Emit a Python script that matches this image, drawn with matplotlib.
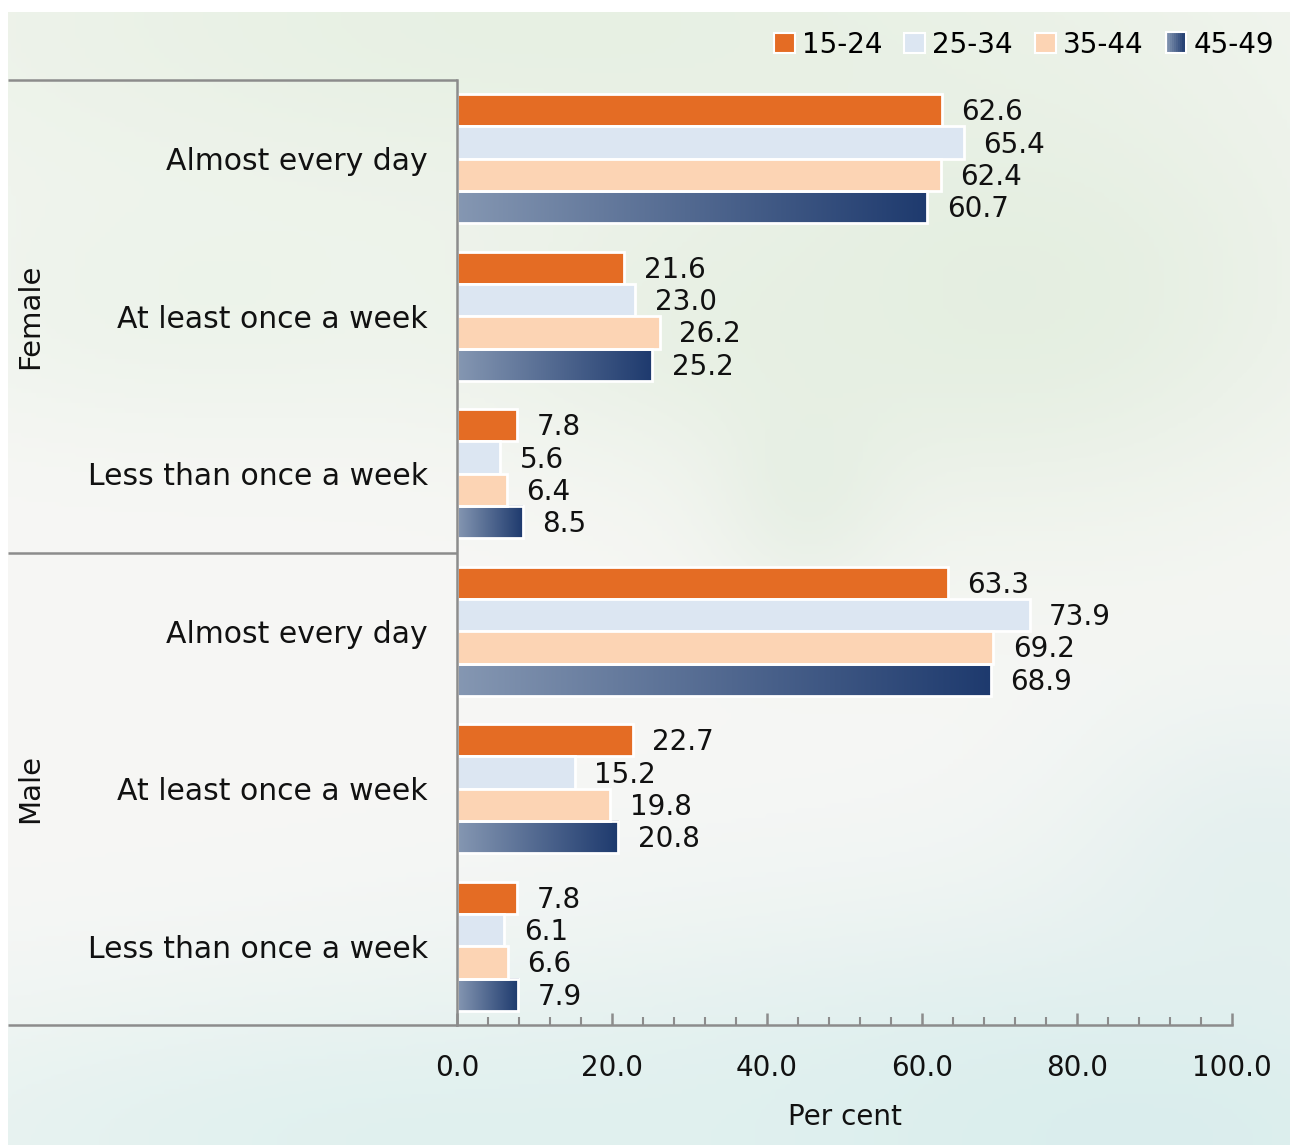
import numpy as np
import matplotlib.pyplot as plt
from matplotlib.colors import LinearSegmentedColormap
from matplotlib.patches import Rectangle
from matplotlib.legend_handler import HandlerBase

plt.rcParams['font.family'] = ['DejaVu Sans']

groups = ["Female", "Male"]
frequencies = ["Almost every day", "At least once a week", "Less than once a week"]
ages = ["15-24", "25-34", "35-44", "45-49"]

# per cent, rows = Female x3 then Male x3
age_15_24 = [62.6, 21.6, 7.8, 63.3, 22.7, 7.8]
age_25_34 = [65.4, 23.0, 5.6, 73.9, 15.2, 6.1]
age_35_44 = [62.4, 26.2, 6.4, 69.2, 19.8, 6.6]
age_45_49 = [60.7, 25.2, 8.5, 68.9, 20.8, 7.9]
series = [age_15_24, age_25_34, age_35_44, age_45_49]

colors = ["#E46C24", "#DCE6F2", "#FCD4B4", None]
navy = LinearSegmentedColormap.from_list("navy", ["#8597B2", "#1E3A6E"])
line_grey = "#8C8C8C"

fig = plt.figure(figsize=(12.9, 11.45), dpi=100)

# watercolour-style wash behind everything
bg = fig.add_axes([8 / 1290, 0, 1 - 8 / 1290, 1 - 12 / 1145], zorder=-10)
H, W = 230, 260
yy, xx = np.mgrid[0:H, 0:W]
yy = yy / H
xx = xx / W
base = np.array([247, 247, 245], float)
img = np.ones((H, W, 3)) * base


def wash(img, cx, cy, sx, sy, rgb, strength):
    w = strength * np.exp(-(((xx - cx) / sx) ** 2 + ((yy - cy) / sy) ** 2))
    return img * (1 - w[..., None]) + np.array(rgb, float) * w[..., None]


img = wash(img, 0.4, 0.0, 0.6, 0.2, (230, 240, 226), 0.9)
img = wash(img, 0.15, 0.25, 0.25, 0.12, (234, 242, 232), 0.7)
img = wash(img, 0.78, 0.25, 0.28, 0.2, (225, 237, 221), 0.8)
img = wash(img, 0.62, 0.42, 0.07, 0.1, (220, 234, 218), 0.45)
img = wash(img, 0.55, 0.28, 0.18, 0.1, (229, 239, 225), 0.6)
img = wash(img, 0.85, 1.0, 0.45, 0.2, (214, 236, 236), 0.9)
img = wash(img, 0.3, 1.0, 0.5, 0.14, (222, 240, 238), 0.85)
img = wash(img, 0.98, 0.75, 0.15, 0.15, (220, 237, 236), 0.6)
bg.imshow(img.astype(np.uint8), aspect="auto", interpolation="bicubic",
          extent=[0, 1, 0, 1])
bg.set_axis_off()

ax = fig.add_axes([457 / 1290, 120 / 1145, 775 / 1290, 945 / 1145])
ax.patch.set_alpha(0)

n_cat = len(age_15_24)
pos = np.arange(n_cat) + 0.5
h = 0.205
offsets = (np.arange(4) - 1.5) * h

for i, vals in enumerate(series):
    y = pos + offsets[i]
    if colors[i] is not None:
        ax.barh(y, vals, height=h, color=colors[i], edgecolor="white",
                linewidth=2, zorder=3)
    else:
        grad = np.linspace(0, 1, 256).reshape(1, -1)
        for yi, v in zip(y, vals):
            ax.imshow(grad, cmap=navy, aspect="auto", zorder=2,
                      extent=[0, v, yi + h / 2, yi - h / 2])
        ax.barh(y, vals, height=h, color="none", edgecolor="white",
                linewidth=2, zorder=3)
    for yi, v in zip(y, vals):
        ax.annotate(f"{v:.1f}", (v, yi), xytext=(14, -1.5),
                    textcoords="offset points", ha="left", va="center",
                    fontsize=20, color="#111111")

ax.set_xlim(0, 100)
ax.set_ylim(n_cat, 0)

ax.set_yticks(pos)
ax.set_yticklabels(frequencies * 2, fontsize=21.5, color="#111111")
ax.tick_params(axis="y", length=0, pad=21)

ax.set_xticks(np.arange(0, 101, 20))
ax.set_xticklabels([f"{t:.1f}" for t in np.arange(0, 101, 20)], fontsize=20,
                   color="#111111")
ax.set_xticks(np.arange(0, 101, 4), minor=True)
ax.tick_params(axis="x", which="major", direction="in", length=9, width=1.8,
               color=line_grey, pad=21)
ax.tick_params(axis="x", which="minor", direction="in", length=6, width=1.5,
               color=line_grey)
ax.set_xlabel("Per cent", fontsize=20, color="#111111", labelpad=15)

for s in ["top", "right"]:
    ax.spines[s].set_visible(False)
for s in ["left", "bottom"]:
    ax.spines[s].set_color(line_grey)
    ax.spines[s].set_linewidth(1.8)
    ax.spines[s].set_zorder(5)

# group dividers extending into the label area
left = (8 - 457) / 775
for yv in [0, 3, 6]:
    ax.plot([left, 0], [yv, yv], transform=ax.get_yaxis_transform(),
            color=line_grey, lw=1.8, clip_on=False, solid_capstyle="butt")
for k, g in enumerate(groups):
    ax.text(-0.551, 1.5 + 3 * k, g, transform=ax.get_yaxis_transform(),
            rotation=90, ha="center", va="center", fontsize=21,
            color="#111111")


class GradientHandler(HandlerBase):
    def create_artists(self, legend, orig, xd, yd, width, height, fontsize, trans):
        parts = []
        n = 10
        for j in range(n):
            parts.append(Rectangle((xd + width * j / n, yd), width / n + 0.3,
                                   height, facecolor=navy(j / (n - 1)),
                                   edgecolor="none", transform=trans))
        parts.append(Rectangle((xd, yd), width, height, facecolor="none",
                               edgecolor="white", lw=1.5, transform=trans))
        return parts


handles = [Rectangle((0, 0), 1, 1, facecolor=c, edgecolor="white", lw=1.5)
           for c in colors[:3]]
handles.append(Rectangle((0, 0), 1, 1))
leg = fig.legend(handles, ages, loc="upper right",
                 bbox_to_anchor=(1274 / 1290, 1 - 31 / 1145), ncol=4,
                 frameon=False, fontsize=20, handlelength=0.75,
                 handleheight=0.75, handletextpad=0.25, columnspacing=0.8,
                 borderpad=0, borderaxespad=0,
                 handler_map={handles[3]: GradientHandler()})

fig.savefig("out.png", dpi=100)
